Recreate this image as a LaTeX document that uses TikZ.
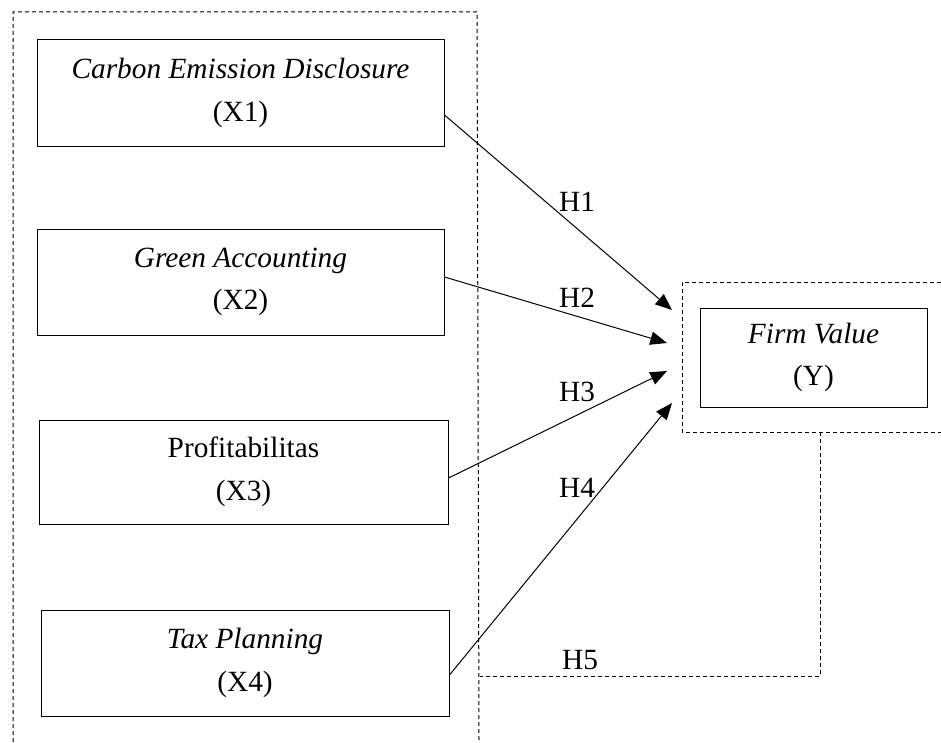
\documentclass[tikz,border=0pt]{standalone}
\usepackage{fontspec}
\setmainfont{Liberation Serif}
\usetikzlibrary{arrows.meta,calc}
\tikzset{
  varbox/.style={draw, line width=0.75pt, rectangle, align=center, inner sep=0pt,
    font=\fontsize{22}{32}\selectfont},
  grp/.style={draw, line width=0.75pt, dash pattern=on 3pt off 2.25pt},
  arr/.style={draw, line width=0.75pt, -{Triangle[length=12.5pt,width=10pt]}},
  hlab/.style={font=\fontsize{22}{26}\selectfont, inner sep=0pt}
}
\begin{document}
\begin{tikzpicture}[x=0.75pt,y=-0.75pt]
\useasboundingbox (0,0) rectangle (941,742);
% variable boxes
\node[varbox, minimum width=407*0.75pt, minimum height=106*0.75pt] (x1) at (240.5,93)
  {\textit{Carbon Emission Disclosure}\\(X1)};
\node[varbox, minimum width=407*0.75pt, minimum height=106*0.75pt] (x2) at (240.5,282)
  {\textit{Green Accounting}\\(X2)};
\node[varbox, minimum width=409*0.75pt, minimum height=104*0.75pt] (x3) at (243.5,472)
  {Profitabilitas\\(X3)};
\node[varbox, minimum width=408*0.75pt, minimum height=106*0.75pt] (x4) at (245,663)
  {\textit{Tax Planning}\\(X4)};
\node[varbox, minimum width=227*0.75pt, minimum height=99*0.75pt] (y) at (813.5,357.5)
  {\textit{Firm Value}\\(Y)};
% dashed groups
\coordinate (gl1) at (13,742);
\coordinate (gl2) at (13,12);
\coordinate (gl3) at (477,12);
\coordinate (gl4) at (479,742);
\draw[grp] (gl1) -- (gl2) -- (gl3) -- (gl4);
\coordinate (fo1) at (941,282);
\coordinate (fo2) at (682,282);
\coordinate (fo3) at (682,432);
\coordinate (fo4) at (941,432);
\draw[grp] (fo1) -- (fo2) -- (fo3) -- (fo4);
% H5 connector
\coordinate (h5a) at (820,432);
\coordinate (h5b) at (820,676);
\coordinate (h5c) at (480,676);
\draw[grp] (h5a) -- (h5b) -- (h5c);
% arrow targets
\coordinate (t1) at (672,310);
\coordinate (t2) at (667,343);
\coordinate (t3) at (667,371);
\coordinate (t4) at (672,403);
\draw[arr] ($(x1.east)+(0,22)$) -- (t1);
\draw[arr] ($(x2.east)+(0,-5)$) -- (t2);
\draw[arr] ($(x3.east)+(0,6)$) -- (t3);
\draw[arr] ($(x4.east)+(0,12)$) -- (t4);
% labels
\node[hlab] (lh1) at (577,202) {H1};
\node[hlab] (lh2) at (577,298) {H2};
\node[hlab] (lh3) at (577,392) {H3};
\node[hlab] (lh4) at (577,488) {H4};
\node[hlab] (lh5) at (580,660) {H5};
\end{tikzpicture}
\end{document}
